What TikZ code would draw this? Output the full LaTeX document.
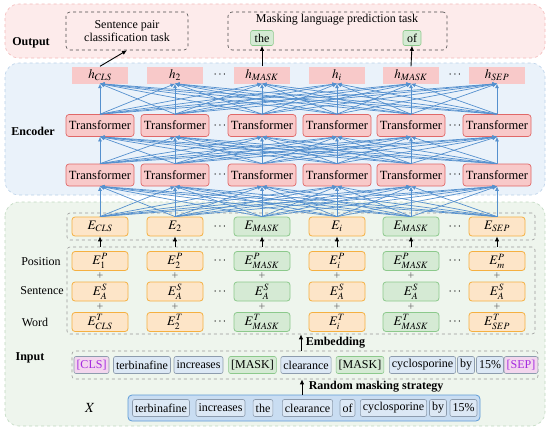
\documentclass[tikz,border=0pt]{standalone}
\usepackage{mathptmx}
\usepackage{fontspec}
\setmainfont{Liberation Serif}
\usetikzlibrary{arrows.meta}

\definecolor{outfill}{HTML}{FDEBEB}
\definecolor{outline}{HTML}{F4B9B9}
\definecolor{encfill}{HTML}{EAF2FA}
\definecolor{encline}{HTML}{B9D0E8}
\definecolor{infill}{HTML}{EEF5ED}
\definecolor{inline}{HTML}{BFD8BF}
\definecolor{hpink}{HTML}{F8C9C9}
\definecolor{trred}{HTML}{E06868}
\definecolor{eorange}{HTML}{F5B041}
\definecolor{eorangefill}{HTML}{FDE5C8}
\definecolor{mgreen}{HTML}{8CC98C}
\definecolor{mgreenfill}{HTML}{D5EAD4}
\definecolor{tokgray}{HTML}{8D9CAE}
\definecolor{tokfill}{HTML}{DCE8F5}
\definecolor{xblue}{HTML}{5E9BD6}
\definecolor{xfill}{HTML}{C9DDF2}
\definecolor{linkblue}{HTML}{5590CE}
\definecolor{clsfill}{HTML}{F3D6EE}
\definecolor{clstext}{HTML}{A52AE0}

\begin{document}
\begin{tikzpicture}[x=1pt,y=-1pt,font=\fontsize{12}{13}\selectfont,
  region/.style={dashed,rounded corners=14pt,line width=0.6pt},
  lab/.style={font=\fontsize{12}{13}\selectfont\bfseries},
  taskbox/.style={draw=black!70,dashed,rounded corners=4pt,line width=0.6pt},
  hbox/.style={fill=hpink,minimum width=56pt,minimum height=17pt,inner sep=0pt,font=\fontsize{13}{14}\selectfont},
  trbox/.style={draw=trred,fill=hpink,rounded corners=3pt,minimum width=68pt,minimum height=22pt,inner sep=0pt,line width=0.7pt,font=\fontsize{12.5}{13}\selectfont},
  ebox/.style={draw=eorange,fill=eorangefill,rounded corners=3pt,minimum width=56pt,minimum height=19pt,inner sep=0pt,line width=0.8pt,font=\fontsize{13}{14}\selectfont},
  mbox/.style={ebox,draw=mgreen,fill=mgreenfill},
  cont/.style={draw=black!40,dashed,rounded corners=3pt,line width=0.6pt},
  tok/.style={draw=tokgray,fill=tokfill,rounded corners=2pt,minimum height=17pt,inner xsep=2.5pt,inner ysep=0pt,line width=0.6pt},
  mtok/.style={tok,draw=mgreen,fill=mgreenfill},
  ctok/.style={tok,fill=clsfill,text=clstext},
  link/.style={draw=linkblue,line width=0.7pt,-{Latex[length=4.5pt,width=4pt]}},
  blk/.style={-{Latex[length=5pt,width=4.5pt]},line width=0.9pt}]
\useasboundingbox (0,0) rectangle (550,429);

% layer backgrounds
\draw[region,draw=outline,fill=outfill] (5,4) rectangle (545,58);
\draw[region,draw=encline,fill=encfill] (5,63) rectangle (545,195);
\draw[region,draw=inline,fill=infill] (5,202) rectangle (545,426);

% layer labels
\node[lab] (outlab) at (31,43) {Output};
\node[lab] (enclab) at (33,131) {Encoder};
\node[lab] (inlab) at (30,358) {Input};
\node[font=\fontsize{14}{15}\selectfont] (xlab) at (90,408) {$X$};
\node (poslab) at (41,262) {Position};
\node (senlab) at (42,291) {Sentence};
\node (wordlab) at (35,322) {Word};

% output tasks
\node[taskbox,minimum width=122pt,minimum height=38pt,align=center] (cls task) at (127,31) {Sentence pair\\classification task};
\node[taskbox,minimum width=219pt,minimum height=38pt] (mlm task) at (337.5,31) {};
\node (mlm title) at (337,20) {Masking language prediction task};
\node[tok,draw=mgreen,fill=mgreenfill,minimum height=15pt,inner xsep=4pt] (the) at (262,38) {the};
\node[tok,draw=mgreen,fill=mgreenfill,minimum height=15pt,inner xsep=4pt] (of) at (412,38) {of};

% containers of the embedding part
\node[cont,minimum width=468pt,minimum height=27pt] (erow) at (301,226.5) {};
\node[cont,minimum width=468pt,minimum height=87pt] (emb) at (301,290.5) {};

% columns
\foreach \i/\x/\hl/\el/\pl/\tl in {
    1/100/{CLS}/{CLS}/1/{CLS},
    2/175/2/2/2/2,
    3/262/{MASK}/{MASK}/{MASK}/{MASK},
    4/337/i/i/i/i,
    5/411/{MASK}/{MASK}/{MASK}/{MASK},
    6/497/{SEP}/{SEP}/m/{SEP}} {
  \node[hbox] (h\i) at (\x,75) {$h_{\hl}$};
  \node[trbox] (ta\i) at (\x,125.5) {Transformer};
  \node[trbox] (tb\i) at (\x,175) {Transformer};
  \ifnum\i=3 \tikzset{colbox/.style=mbox}\else\ifnum\i=5 \tikzset{colbox/.style=mbox}\else\tikzset{colbox/.style=ebox}\fi\fi
  \node[colbox] (e\i) at (\x,226.5) {$E_{\el}$};
  \node[colbox] (ep\i) at (\x,261) {$E^{P}_{\pl}$};
  \node[colbox] (es\i) at (\x,291.5) {$E^{S}_{A}$};
  \node[colbox] (et\i) at (\x,322) {$E^{T}_{\tl}$};
  \node[text=black!60] (pa\i) at (\x,276.5) {+};
  \node[text=black!60] (pb\i) at (\x,307) {+};
  \draw[blk] (emb.north -| e\i) -- (e\i.south);
}

% dots between columns
\foreach \y [count=\r] in {75,125.5,175,226.5,261,291.5,322} {
  \node (dl\r) at (220,\y) {$\cdots$};
  \node (dr\r) at (455,\y) {$\cdots$};
}

% full connections
\foreach \i in {1,...,6} {
  \foreach \j in {1,...,6} {
    \draw[link] (e\j.north) -- (tb\i.south);
    \draw[link] (tb\j.north) -- (ta\i.south);
    \draw[link] (ta\j.north) -- (h\i.south);
  }
}

% outputs
\draw[blk] (h1.north) -- (cls task.south);
\draw[blk] (h3.north) -- (the.south);
\draw[blk] (h5.north) -- (of.south);

% input tokens
\node[cont,minimum width=466pt,minimum height=28pt] (inp) at (305,365) {};
\node[ctok] (in1) at (91.5,365) {[CLS]};
\node[tok] (in2) at (142,365) {terbinafine};
\node[tok] (in3) at (198.5,365) {increases};
\node[mtok] (in4) at (252.5,365) {[MASK]};
\node[tok] (in5) at (306,365) {clearance};
\node[mtok] (in6) at (360,365) {[MASK]};
\node[tok] (in7) at (422.5,365) {cyclosporine};
\node[tok] (in8) at (466,365) {by};
\node[tok] (in9) at (490,365) {15\%};
\node[ctok] (in10) at (521,365) {[SEP]};

% original sentence
\node[draw=xblue,fill=xfill,rounded corners=4pt,line width=0.8pt,minimum width=352pt,minimum height=26pt] (xrow) at (304,408) {};
\foreach \x/\t [count=\k] in {161/terbinafine,220.5/increases,263/the,307.5/clearance,347.5/of,393.5/cyclosporine,438/by,463.5/15\%} {
  \node[tok] (x\k) at (\x,408) {\t};
}

\draw[blk] ([xshift=-4pt]inp.north) -- ([xshift=-4pt]inp.north |- emb.south) node[midway,right=1pt,lab]{Embedding};
\draw[blk] ([xshift=-2pt]xrow.north) -- ([xshift=-2pt]xrow.north |- inp.south) node[midway,right=3pt,lab]{Random masking strategy};
\end{tikzpicture}
\end{document}
